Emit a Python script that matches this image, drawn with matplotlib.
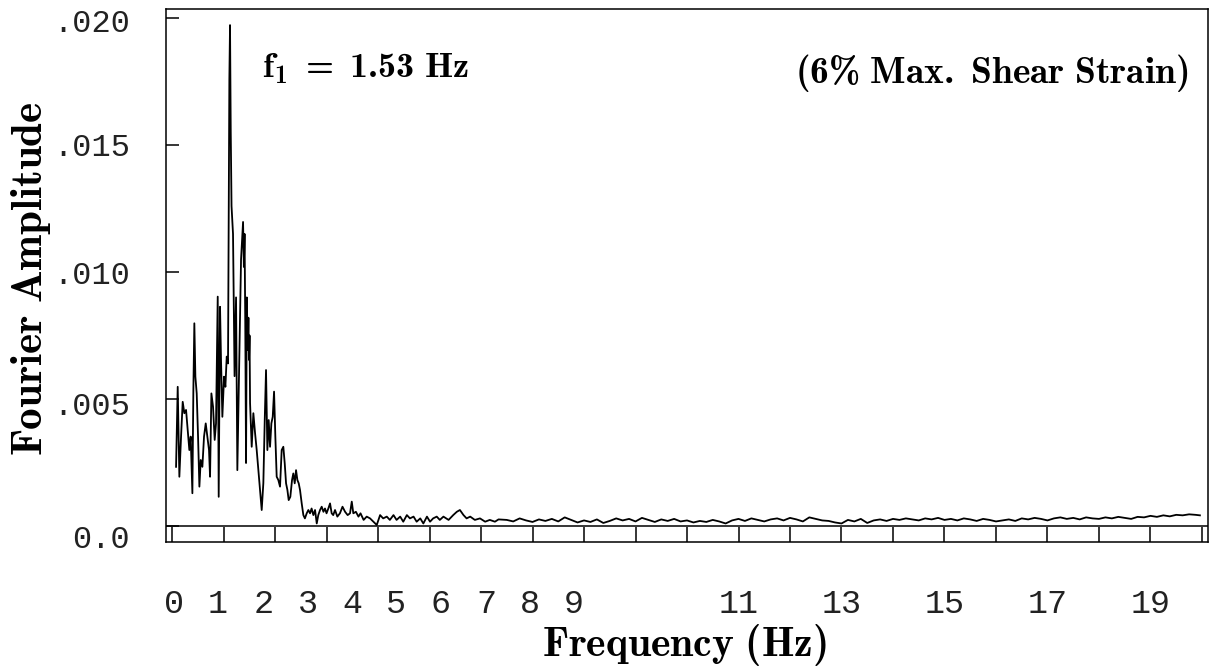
import matplotlib
matplotlib.use('Agg')
import matplotlib.pyplot as plt
import numpy as np

# bold Computer Modern for every label, as in the original
plt.rcParams['mathtext.fontset'] = 'custom'
plt.rcParams['mathtext.rm'] = 'cmb10'
plt.rcParams['mathtext.bf'] = 'cmb10'
plt.rcParams['mathtext.it'] = 'cmb10'

# spectrum: frequency (Hz) and amplitude (x 1e-3)
freq = [0.078, 0.110, 0.142, 0.175, 0.207, 0.239, 0.272, 0.304, 0.336, 0.362,
        0.395, 0.414, 0.433, 0.453, 0.479, 0.505, 0.531, 0.557, 0.589, 0.621,
        0.654, 0.686, 0.718, 0.738, 0.764, 0.796, 0.828, 0.854, 0.887, 0.906,
        0.932, 0.951, 0.977, 1.010, 1.036, 1.062, 1.087, 1.100, 1.113, 1.126,
        1.140, 1.155, 1.184, 1.214, 1.243, 1.268, 1.300, 1.340, 1.379, 1.395,
        1.408, 1.422, 1.437, 1.452, 1.470, 1.483, 1.495, 1.505, 1.515, 1.547,
        1.579, 1.612, 1.644, 1.676, 1.709, 1.741, 1.773, 1.800, 1.825, 1.851,
        1.877, 1.903, 1.929, 1.955, 1.981, 2.006, 2.032, 2.064, 2.097, 2.129,
        2.161, 2.188, 2.214, 2.240, 2.265, 2.297, 2.330, 2.355, 2.382, 2.408,
        2.434, 2.460, 2.485, 2.518, 2.550, 2.580, 2.615, 2.647, 2.680, 2.710,
        2.744, 2.777, 2.810, 2.840, 2.874, 2.906, 2.940, 2.970, 3.000, 3.035,
        3.068, 3.100, 3.130, 3.165, 3.210, 3.260, 3.310, 3.360, 3.410, 3.456,
        3.490, 3.520, 3.570, 3.620, 3.660, 3.720, 3.780, 3.845, 3.910, 3.975,
        4.040, 4.100, 4.170, 4.230, 4.300, 4.360, 4.430, 4.490, 4.560, 4.620,
        4.690, 4.750, 4.820, 4.880, 4.950, 5.010, 5.070, 5.140, 5.200, 5.270,
        5.370, 5.460, 5.530, 5.590, 5.660, 5.720, 5.790, 5.880, 5.980, 6.080,
        6.170, 6.270, 6.340, 6.500, 6.625, 6.750, 6.875, 7.000, 7.125, 7.250,
        7.375, 7.500, 7.625, 7.750, 7.875, 8.000, 8.125, 8.250, 8.375, 8.500,
        8.625, 8.750, 8.875, 9.000, 9.125, 9.250, 9.375, 9.500, 9.625, 9.750,
        9.875, 10.000, 10.125, 10.250, 10.375, 10.500, 10.625, 10.750, 10.875, 11.000,
        11.125, 11.250, 11.375, 11.500, 11.625, 11.750, 11.875, 12.000, 12.125, 12.250,
        12.375, 12.500, 12.625, 12.750, 12.875, 13.000, 13.125, 13.250, 13.375, 13.500,
        13.625, 13.750, 13.875, 14.000, 14.125, 14.250, 14.375, 14.500, 14.625, 14.750,
        14.875, 15.000, 15.125, 15.250, 15.375, 15.500, 15.625, 15.750, 15.875, 16.000,
        16.125, 16.250, 16.375, 16.500, 16.625, 16.750, 16.875, 17.000, 17.125, 17.250,
        17.375, 17.500, 17.625, 17.750, 17.875, 18.000, 18.125, 18.250, 18.375, 18.500,
        18.625, 18.750, 18.875, 19.000, 19.125, 19.250, 19.375, 19.500, 19.625, 19.750,
        19.875, 19.960]

amp_milli = [2.33, 5.48, 1.94, 3.52, 4.89, 4.44, 4.57, 3.78, 2.99, 3.52,
             1.29, 5.35, 7.98, 5.88, 5.22, 3.52, 1.55, 2.60, 2.33, 3.52,
             4.04, 3.52, 2.99, 1.94, 5.22, 4.70, 3.39, 4.04, 9.03, 1.15,
             8.63, 6.54, 4.30, 5.88, 5.48, 6.67, 6.40, 11.8, 17.6, 19.72,
             15.5, 12.6, 11.5, 5.90, 9.00, 2.20, 6.00, 10.5, 11.97, 10.2,
             11.5, 8.00, 2.48, 9.00, 6.93, 8.20, 6.54, 7.50, 4.84, 3.12,
             4.44, 3.66, 2.99, 2.20, 1.42, 0.63, 1.69, 4.17, 6.14, 2.99,
             4.17, 3.12, 4.04, 4.30, 5.29, 3.52, 1.94, 1.81, 1.55, 2.99,
             3.12, 2.47, 1.68, 1.42, 1.02, 1.15, 1.81, 2.07, 1.68, 2.20,
             1.81, 1.68, 1.42, 0.89, 0.43, 0.30, 0.50, 0.63, 0.50, 0.69,
             0.43, 0.63, 0.10, 0.43, 0.63, 0.76, 0.56, 0.69, 0.50, 0.69,
             0.89, 0.50, 0.43, 0.63, 0.37, 0.50, 0.76, 0.56, 0.43, 0.50,
             0.96, 0.50, 0.56, 0.37, 0.50, 0.24, 0.37, 0.30, 0.17, 0.04,
             0.43, 0.30, 0.37, 0.24, 0.43, 0.24, 0.37, 0.17, 0.43, 0.30,
             0.37, 0.17, 0.30, 0.10, 0.37, 0.17, 0.30, 0.37, 0.24, 0.37,
             0.24, 0.43, 0.56, 0.63, 0.43, 0.30, 0.37, 0.24, 0.30, 0.17,
             0.24, 0.17, 0.26, 0.24, 0.18, 0.30, 0.22, 0.16, 0.26, 0.20,
             0.28, 0.18, 0.34, 0.24, 0.14, 0.22, 0.16, 0.26, 0.12, 0.20,
             0.30, 0.22, 0.28, 0.18, 0.32, 0.24, 0.16, 0.26, 0.20, 0.28,
             0.18, 0.22, 0.14, 0.20, 0.16, 0.24, 0.18, 0.10, 0.22, 0.28,
             0.20, 0.30, 0.24, 0.18, 0.26, 0.30, 0.22, 0.32, 0.26, 0.18,
             0.34, 0.28, 0.22, 0.20, 0.14, 0.10, 0.24, 0.18, 0.28, 0.12,
             0.22, 0.26, 0.20, 0.28, 0.24, 0.30, 0.26, 0.22, 0.30, 0.26,
             0.32, 0.24, 0.28, 0.22, 0.30, 0.26, 0.20, 0.28, 0.24, 0.18,
             0.22, 0.26, 0.20, 0.30, 0.26, 0.32, 0.28, 0.22, 0.30, 0.34,
             0.28, 0.32, 0.26, 0.34, 0.30, 0.28, 0.34, 0.30, 0.36, 0.32,
             0.28, 0.36, 0.34, 0.40, 0.36, 0.42, 0.38, 0.44, 0.42, 0.46,
             0.44, 0.42]

amp = np.array(amp_milli) * 1e-3

# tick marks every 1 Hz; the printed labels sit where the original typed them
xtick_pos = list(range(0, 21))
xlabel_text = ['0', '1', '2', '3', '4', '5', '6', '7', '8', '9',
               '11', '13', '15', '17', '19']
xlabel_pos = [0.04, 0.89, 1.77, 2.64, 3.50, 4.35, 5.22, 6.10, 6.95, 7.81,
              11, 13, 15, 17, 19]

ytick_pos = [0.0, 0.005, 0.010, 0.015, 0.020]
ylabel_text = ['0.0', '.005', '.010', '.015', '.020']
ylabel_pos = [-0.00043, 0.00484, 0.0100, 0.0150, 0.0199]

mono = 'Liberation Mono'

fig = plt.figure(figsize=(12.12, 6.68), dpi=100)
ax = fig.add_axes([0.137, 0.1886, 0.8597, 0.7972])

ax.plot(freq, amp, color='black', lw=1.3)
ax.axhline(0, color='black', lw=1.1)

ax.set_xlim(-0.1165, 20.117)
ax.set_ylim(-0.00063, 0.020335)

ax.xaxis.remove_overlapping_locs = False
ax.yaxis.remove_overlapping_locs = False

ax.set_xticks(xtick_pos)
ax.set_xticklabels([])
ax.set_xticks(xlabel_pos, xlabel_text, minor=True)
ax.tick_params(axis='x', which='major', direction='in', length=11, width=1.1)
ax.tick_params(axis='x', which='minor', length=0, pad=34, labelsize=24,
               labelcolor='#222222')

ax.set_yticks(ytick_pos)
ax.set_yticklabels([])
ax.set_yticks(ylabel_pos, ylabel_text, minor=True)
ax.tick_params(axis='y', which='major', direction='in', length=9, width=1.1)
ax.tick_params(axis='y', which='minor', length=0, pad=26, labelsize=23,
               labelcolor='#222222')

for lab in ax.get_xticklabels(minor=True) + ax.get_yticklabels(minor=True):
    lab.set_fontfamily(mono)

for sp in ax.spines.values():
    sp.set_linewidth(1.1)

fig.text(0.0255, 0.583, r'$\mathrm{Fourier\ Amplitude}$', rotation=90,
         ha='center', va='center', fontsize=31)
fig.text(0.565, 0.034, r'$\mathrm{Frequency\ (Hz)}$',
         ha='center', va='center', fontsize=30)

ax.text(1.75, 0.01800, r'$\mathrm{f_1\ =\ 1.53\ Hz}$', ha='left', va='center',
        fontsize=26)
ax.text(19.73, 0.01785, r'$\mathrm{(6\%\ Max.\ Shear\ Strain)}$', ha='right',
        va='center', fontsize=27)

fig.savefig('out.png', dpi=100)
